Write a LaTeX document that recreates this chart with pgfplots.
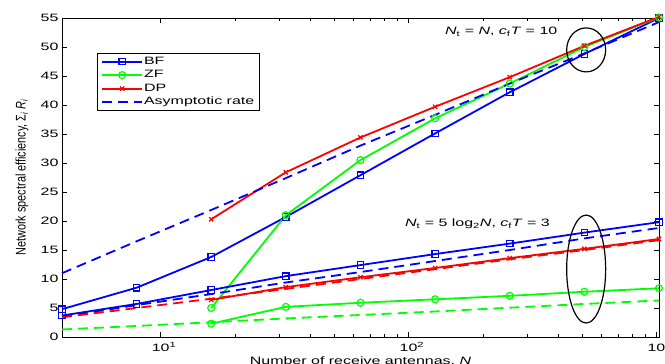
\documentclass[border=0pt]{standalone}
\usepackage{pgfplots}
\pgfplotsset{compat=1.18}
\usepackage{fontspec}
\setmainfont{Liberation Sans}[FakeStretch=1.5]
\newfontfamily\ylabfont{Liberation Sans}[FakeStretch=0.78]
\begin{document}
\begin{tikzpicture}
\useasboundingbox (-62bp,-27bp) rectangle (603bp,337bp);
\clip (-62bp,-27bp) rectangle (603bp,337bp);
\begin{axis}[
  scale only axis, width=597bp, height=319bp,
  xmode=log, xmin=4, xmax=1024, ymin=0, ymax=55,
  clip=false,
  ytick={0,5,...,55},
  xtick={10,100,1000},
  xticklabels={10\rlap{\textsuperscript{1}},10\rlap{\textsuperscript{2}},10\rlap{\textsuperscript{3}}},
  /pgf/number format/assume math mode=true,
  tick label style={font=\fontsize{10.7}{12}\selectfont},
  xticklabel style={yshift=-2bp},
  major tick length=5bp, minor tick length=3bp,
  every tick/.style={black, line width=0.5bp},
  axis line style={line width=0.8bp},
  xlabel={Number of receive antennas,\ \textit{N}},
  xlabel style={at={(axis description cs:0.5,-0.0600)}, anchor=north, inner sep=0pt, font=\fontsize{10.7}{12}\selectfont},
  ylabel={Network spectral efficiency, Σ\textsubscript{\textit{i}}\,\textit{R}\textsubscript{\textit{i}}},
  ylabel style={at={(axis description cs:-0.067,0.5)}, anchor=center, font=\ylabfont\fontsize{14}{16}\selectfont},
  legend style={at={(rel axis cs:0.0586,0.890)}, anchor=north west, draw=black, line width=0.6bp,
    font=\fontsize{10.7}{12}\selectfont, inner xsep=4bp, inner ysep=2bp, row sep=1bp,
    nodes={inner sep=1bp, text height=8bp, text depth=2.5bp}},
  legend cell align=left,
  legend image code/.code={\draw[mark repeat=2, mark phase=2] plot coordinates {(0bp,0bp) (20bp,0bp) (40bp,0bp)};},
  every axis plot/.append style={line width=1.8bp},
]
% upper group: N_t = N, c_f T = 10
\addplot[blue, mark=square, mark size=3.2bp, mark options={solid, line width=1.2bp}] coordinates {
 (4,4.8) (8,8.5) (16,13.8) (32,20.7) (64,27.9) (128,35.1) (256,42.2) (512,48.8) (1024,55.0)};
\addlegendentry{BF}
\addplot[green, mark=o, mark size=3.5bp, mark options={solid, line width=1.2bp}] coordinates {
 (16,5.0) (32,21.0) (64,30.5) (128,37.7) (256,43.7) (512,50.0) (1024,55.1)};
\addlegendentry{ZF}
\addplot[red, mark=x, mark size=3bp, mark options={solid, line width=1.2bp}] coordinates {
 (16,20.3) (32,28.4) (64,34.4) (128,39.7) (256,44.8) (512,50.2) (1024,55.2)};
\addlegendentry{DP}
\addplot[blue, dash pattern=on 10bp off 6bp] coordinates {
 (4,11.0) (8,16.5) (16,21.9) (32,27.4) (64,33.0) (128,38.3) (256,43.7) (512,48.9) (1024,54.3)};
\addlegendentry{Asymptotic rate}
% lower group: N_t = 5 log2 N, c_f T = 3
\addplot[forget plot, blue, mark=square, mark size=3.2bp, mark options={solid, line width=1.2bp}] coordinates {
 (4,3.7) (8,5.7) (16,8.1) (32,10.5) (64,12.4) (128,14.3) (256,16.1) (512,18.0) (1024,19.8)};
\addplot[forget plot, blue, dash pattern=on 10bp off 6bp] coordinates {
 (4,3.5) (8,5.5) (16,7.4) (32,9.4) (64,11.2) (128,13.1) (256,15.0) (512,17.0) (1024,18.8)};
\addplot[forget plot, red, mark=x, mark size=3bp, mark options={solid, line width=1.2bp}] coordinates {
 (16,6.4) (32,8.6) (64,10.3) (128,11.9) (256,13.6) (512,15.2) (1024,16.9)};
\addplot[forget plot, red, dash pattern=on 10bp off 6bp] coordinates {
 (4,3.4) (8,5.0) (16,6.6) (32,8.3) (64,10.0) (128,11.7) (256,13.4) (512,15.0) (1024,16.7)};
\addplot[forget plot, green, mark=o, mark size=3.5bp, mark options={solid, line width=1.2bp}] coordinates {
 (16,2.3) (32,5.2) (64,5.9) (128,6.5) (256,7.1) (512,7.8) (1024,8.4)};
\addplot[forget plot, green, dash pattern=on 10bp off 6bp] coordinates {
 (4,1.3) (8,1.9) (16,2.55) (32,3.2) (64,3.8) (128,4.4) (256,5.05) (512,5.7) (1024,6.3)};
% annotations
\node[anchor=west, inner sep=0pt, font=\fontsize{10.7}{12}\selectfont] at (rel axis cs:0.6415,0.956)
  {\textit{N}\textsubscript{t} = \textit{N}, \textit{c}\textsubscript{f}\textit{T} = 10};
\node[anchor=west, inner sep=0pt, font=\fontsize{10.7}{12}\selectfont] at (rel axis cs:0.5745,0.354)
  {\textit{N}\textsubscript{t} = 5 log\textsubscript{2}\textit{N}, \textit{c}\textsubscript{f}\textit{T} = 3};
\draw[black, line width=1.2bp] (rel axis cs:0.878,0.900) ellipse [x radius=19.5bp, y radius=22bp];
\draw[black, line width=1.2bp] (rel axis cs:0.878,0.213) ellipse [x radius=19.5bp, y radius=54bp];
\end{axis}
\end{tikzpicture}
\end{document}
